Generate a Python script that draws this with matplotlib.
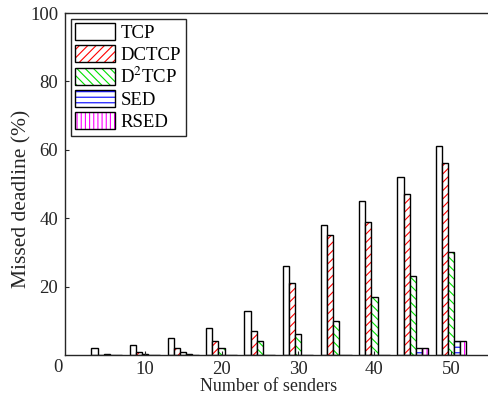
import matplotlib
matplotlib.use("Agg")
import matplotlib.pyplot as plt
import numpy as np
from matplotlib.legend_handler import HandlerTuple

plt.rcParams["font.family"] = "Liberation Serif"
plt.rcParams["mathtext.fontset"] = "stix"
plt.rcParams["hatch.linewidth"] = 0.8

senders = [5, 10, 15, 20, 25, 30, 35, 40, 45, 50]
tcp = [2, 3, 5, 8, 13, 26, 38, 45, 52, 61]
dctcp = [0, 1, 2, 4, 7, 21, 35, 39, 47, 56]
d2tcp = [0.3, 0.3, 1, 2, 4, 6, 10, 17, 23, 30]
sed = [0, 0, 0.3, 0, 0, 0, 0, 0, 2, 4]
rsed = [0, 0, 0, 0, 0, 0, 0, 0, 2, 4]

labels = ["TCP", "DCTCP", "D$^2$TCP", "SED", "RSED"]
values = [tcp, dctcp, d2tcp, sed, rsed]
hatch_colors = [None, "#ff0000", "#00e000", "#0000ff", "#ff00ff"]
hatches = [None, "////", "\\\\\\\\", "---", "||||"]

fig = plt.figure(figsize=(4.89, 4.01), dpi=100)
ax = fig.add_axes([65 / 489, 46 / 401, 424 / 489, 342 / 401])

x = np.array(senders, dtype=float)
width = 0.8
handles = []
for i, (vals, hc, h) in enumerate(zip(values, hatch_colors, hatches)):
    pos = x + (i - 2) * width
    parts = []
    if h is not None:
        hb = ax.bar(pos, vals, width, color="white", edgecolor=hc, hatch=h, linewidth=0)
        parts.append(hb)
    ob = ax.bar(pos, vals, width, fill=False, edgecolor="black", linewidth=1.0)
    parts.append(ob)
    handles.append(tuple(parts))

ax.set_xlim(-0.46, 54.97)
ax.set_ylim(0, 100)
ax.set_xticks([10, 20, 30, 40, 50])
ax.set_yticks([20, 40, 60, 80, 100])
ax.tick_params(direction="in", length=3, labelsize=13.5, colors="#262626", pad=5)
ax.tick_params(axis="x", pad=4)
ax.spines["right"].set_visible(False)
for s in ["left", "bottom", "top"]:
    ax.spines[s].set_linewidth(1.0)
    ax.spines[s].set_color("#262626")
ax.annotate("0", xy=(0, 0), xycoords="axes fraction", xytext=(-7, -12),
            textcoords="offset pixels", ha="center", va="center",
            fontsize=13.5, color="#262626")

ax.set_xlabel("Number of senders", fontsize=13, color="#262626")
ax.xaxis.set_label_coords(0.479, -0.066)
ax.set_ylabel("Missed deadline (%)", fontsize=15.5, color="#262626")
ax.yaxis.set_label_coords(-0.08, 0.456)

leg = ax.legend(handles, labels, loc="upper left", fontsize=13.5,
                handler_map={tuple: HandlerTuple(ndivide=1, pad=0)},
                handlelength=2.1, handleheight=1.0, labelspacing=0.16,
                handletextpad=0.3, borderpad=0.25, borderaxespad=0.3,
                fancybox=False, framealpha=1, edgecolor="#262626")
leg.get_frame().set_linewidth(1.0)

fig.savefig("out.png", dpi=100)
